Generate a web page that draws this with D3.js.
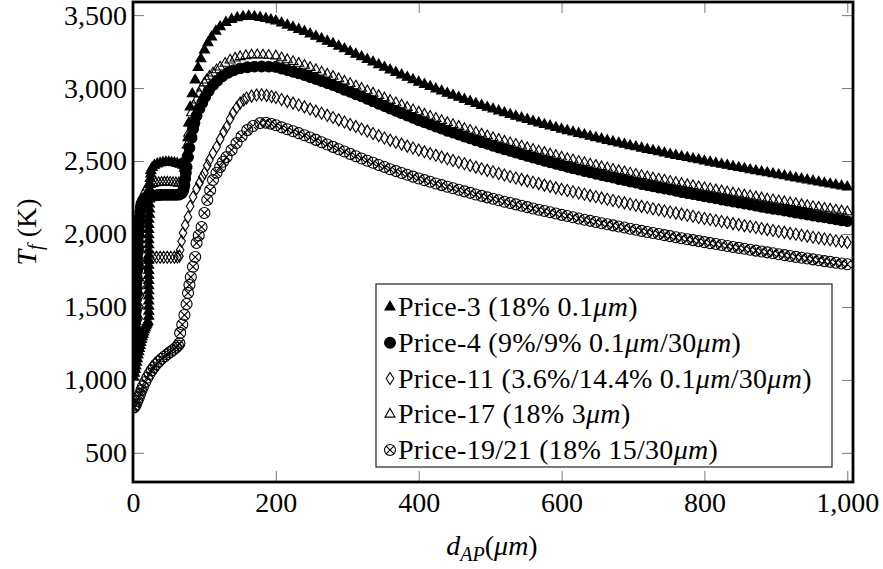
<!DOCTYPE html>
<html>
<head>
<meta charset="utf-8">
<script src="https://cdn.jsdelivr.net/npm/d3@7"></script>
<style>
  html, body { margin: 0; padding: 0; background: #fff; }
</style>
</head>
<body>
<svg id="chart" width="883" height="569"></svg>
<script>
// ---- data -------------------------------------------------------------
const xTicks = [0, 200, 400, 600, 800, 1000];
const yTicks = [500, 1000, 1500, 2000, 2500, 3000, 3500];

const seriesNames = [
  "Price-3 (18% 0.1μm)",
  "Price-4 (9%/9% 0.1μm/30μm)",
  "Price-11 (3.6%/14.4% 0.1μm/30μm)",
  "Price-17 (18% 3μm)",
  "Price-19/21 (18% 15/30μm)"
];

// d_AP sampling of the decaying branch (µm)
const tailX = [200,208,216,224,232,240,248,256,264,272,280,288,296,304,312,320,328,336,344,352,
  360,368,376,384,392,400,408,416,424,432,440,448,456,464,472,480,488,496,504,512,520,528,536,544,
  552,560,568,576,584,592,600,608,616,624,632,640,648,656,664,672,680,688,696,704,712,720,728,736,
  744,752,760,768,776,784,792,800,808,816,824,832,840,848,856,864,872,880,888,896,904,912,920,928,
  936,944,952,960,968,976,984,992,1000];

// [d_AP, T_f] below 200 µm
const price3Head = [[1,1020],[2,1045],[3,1070],[4,1095],[5,1120],[6,1145],[7,1170],[8,1192],[9,1214],
  [10,1236],[11,1256],[12,1276],[13,1295],[14,1312],[15,1328],[16,1343],[17,1357],[18,1370],[19,1381],
  [20,1391],[21,1400],[22,1435],[22,1470],[22,1505],[22,1540],[22,1575],[22,1610],[22,1645],[22,1680],
  [22,1715],[22,1750],[22,1785],[22,1820],[22,1855],[22,1890],[22,1925],[22,1960],[22,1995],[22,2030],
  [22,2065],[22,2100],[23,2135],[23,2170],[23,2205],[23,2240],[23,2275],[23,2310],[23,2345],[24,2380],
  [25,2410],[25,2435],[27,2455],[30,2470],[34,2480],[38,2486],[42,2490],[46,2492],[50,2492],[54,2490],
  [58,2487],[62,2483],[66,2477],[70,2470],[73,2463],[75,2470],[76,2560],[77,2660],[78,2760],[80,2870],
  [83,2960],[87,3055],[91,3140],[95,3200],[100,3260],[105,3310],[110,3350],[116,3390],[122,3420],
  [130,3450],[138,3470],[146,3482],[154,3490],[162,3493],[170,3490],[178,3484],[186,3476],[193,3468]];
const price3Tail = [3460,3446,3431,3417,3402,3388,3371,3355,3338,3321,3305,3287,3269,3250,3232,3214,
  3196,3178,3160,3142,3124,3107,3090,3074,3057,3040,3025,3010,2994,2979,2964,2950,2936,2922,2908,2894,
  2881,2868,2856,2843,2830,2818,2807,2795,2784,2772,2761,2750,2740,2729,2718,2708,2698,2689,2679,2669,
  2660,2651,2641,2632,2623,2614,2605,2597,2588,2579,2571,2563,2554,2546,2538,2530,2523,2515,2508,2500,
  2492,2485,2477,2470,2462,2455,2448,2440,2433,2426,2419,2412,2405,2398,2391,2384,2377,2370,2363,2356,
  2349,2342,2336,2329,2322];

const price4Head = [[2,1150],[2,1190],[2,1230],[3,1270],[3,1310],[3,1350],[3,1390],[4,1430],[4,1470],
  [4,1510],[4,1550],[5,1590],[5,1630],[5,1670],[5,1710],[6,1750],[6,1790],[6,1830],[6,1870],[7,1910],
  [7,1950],[7,1990],[8,2030],[8,2070],[9,2110],[10,2150],[11,2185],[12,2210],[14,2230],[16,2242],
  [18,2248],[21,2252],[25,2258],[29,2262],[33,2265],[37,2267],[41,2268],[45,2268],[49,2268],[53,2268],
  [57,2268],[61,2268],[65,2270],[68,2278],[70,2295],[71,2315],[72,2335],[73,2380],[74,2420],[75,2460],
  [77,2527],[79,2590],[82,2660],[84,2720],[86,2760],[89,2810],[93,2860],[97,2900],[101,2940],[106,2980],
  [112,3020],[118,3050],[125,3080],[133,3105],[141,3122],[150,3135],[160,3143],[170,3147],[180,3148],
  [190,3147]];
const price4Tail = [3145,3134,3123,3112,3101,3090,3076,3062,3048,3034,3020,3005,2989,2974,2958,2943,
  2926,2910,2893,2877,2860,2844,2828,2812,2796,2780,2766,2751,2737,2722,2708,2695,2682,2668,2655,2642,
  2630,2618,2605,2593,2581,2570,2558,2547,2535,2524,2513,2502,2492,2481,2470,2460,2451,2441,2432,2422,
  2413,2404,2395,2386,2377,2369,2360,2352,2343,2335,2327,2319,2312,2304,2296,2288,2281,2273,2266,2258,
  2251,2244,2236,2229,2222,2215,2208,2201,2194,2187,2180,2173,2167,2160,2153,2146,2140,2133,2127,2120,
  2114,2107,2101,2094,2088];

const price11Head = [[4,1060],[5,1150],[6,1240],[7,1330],[8,1420],[9,1500],[10,1580],[12,1660],[14,1730],
  [17,1790],[20,1820],[24,1835],[28,1840],[33,1840],[38,1840],[43,1840],[48,1840],[53,1840],[58,1840],
  [62,1842],[65,1848],[66,1890],[68,1950],[70,2007],[73,2060],[77,2116],[80,2190],[84,2253],[89,2310],
  [93,2350],[97,2390],[100,2418],[104,2470],[107,2507],[112,2555],[117,2596],[122,2650],[127,2700],
  [131,2733],[136,2790],[140,2829],[145,2865],[150,2897],[155,2918],[159,2932],[166,2945],[173,2952],
  [180,2954],[187,2950],[194,2942]];
const price11Tail = [2935,2922,2909,2897,2884,2871,2856,2842,2827,2813,2798,2782,2767,2751,2736,2720,
  2705,2689,2674,2658,2643,2629,2616,2602,2589,2575,2563,2551,2539,2527,2515,2504,2492,2481,2469,2458,
  2447,2436,2426,2415,2404,2394,2384,2374,2364,2354,2345,2335,2326,2316,2307,2298,2289,2281,2272,2263,
  2255,2246,2238,2229,2221,2213,2205,2197,2189,2181,2173,2166,2158,2151,2143,2136,2128,2121,2113,2106,
  2099,2092,2085,2078,2071,2064,2057,2051,2044,2037,2030,2024,2017,2011,2004,1998,1991,1985,1978,1972,
  1966,1960,1954,1948,1942];

const price17Head = [[1,1100],[2,1200],[3,1300],[4,1400],[5,1500],[6,1600],[7,1700],[8,1800],[9,1900],
  [10,2000],[11,2090],[12,2170],[14,2240],[17,2290],[20,2320],[24,2338],[28,2345],[32,2350],[36,2352],
  [40,2354],[44,2355],[48,2355],[52,2354],[56,2352],[60,2350],[64,2348],[68,2350],[70,2380],[72,2450],
  [74,2530],[76,2610],[78,2690],[80,2760],[82,2830],[85,2880],[89,2918],[93,2960],[96,3000],[100,3035],
  [103,3055],[107,3080],[112,3103],[117,3125],[122,3144],[129,3170],[136,3192],[143,3205],[150,3215],
  [158,3222],[166,3227],[174,3228],[182,3226],[190,3224]];
const price17Tail = [3220,3207,3194,3182,3169,3156,3141,3126,3110,3095,3080,3064,3047,3031,3014,2998,
  2981,2965,2948,2932,2915,2899,2883,2867,2851,2835,2821,2806,2792,2777,2763,2750,2737,2723,2710,2697,
  2685,2673,2660,2648,2636,2625,2614,2602,2591,2580,2569,2559,2548,2538,2527,2517,2508,2498,2489,2479,
  2470,2461,2452,2443,2434,2426,2417,2409,2400,2392,2384,2376,2369,2361,2353,2346,2338,2331,2323,2316,
  2309,2302,2295,2288,2281,2274,2267,2261,2254,2247,2240,2234,2227,2221,2214,2208,2201,2195,2188,2182,
  2176,2170,2164,2158,2152];

const price19Head = [[1,810],[2,815],[4,830],[6,855],[8,880],[10,905],[12,930],[14,955],[17,985],[20,1015],
  [23,1040],[26,1065],[29,1085],[32,1105],[36,1125],[40,1145],[44,1160],[48,1175],[52,1190],[56,1205],
  [60,1220],[63,1235],[65,1250],[66,1322],[69,1380],[72,1445],[75,1520],[77,1596],[79,1650],[81,1705],
  [84,1775],[87,1842],[89,1938],[92,1990],[96,2048],[100,2144],[104,2233],[108,2300],[112,2370],
  [117,2420],[122,2459],[126,2495],[131,2527],[138,2575],[145,2623],[152,2670],[160,2712],[168,2740],
  [178,2760],[186,2762],[193,2755]];
const price19Tail = [2745,2731,2718,2704,2691,2677,2661,2645,2629,2613,2597,2581,2565,2549,2533,2517,
  2502,2488,2473,2459,2444,2431,2418,2406,2393,2380,2369,2358,2346,2335,2324,2313,2303,2292,2282,2271,
  2261,2251,2241,2231,2221,2212,2203,2193,2184,2175,2166,2157,2149,2140,2131,2123,2115,2106,2098,2090,
  2082,2074,2067,2059,2051,2044,2036,2029,2021,2014,2007,2000,1992,1985,1978,1971,1964,1958,1951,1944,
  1937,1931,1924,1918,1911,1905,1899,1892,1886,1880,1874,1868,1861,1855,1849,1843,1837,1832,1826,1820,
  1814,1809,1803,1798,1792];

// ---- marker shapes ----------------------------------------------------
const markers = {
  triangleFilled: { d: "M0,-5.8L5.02,2.9L-5.02,2.9Z", fill: "#000" },
  circleFilled:   { d: "M5.4,0A5.4,5.4 0 1,1 -5.4,0A5.4,5.4 0 1,1 5.4,0Z", fill: "#000" },
  diamondOpen:    { d: "M0,-6L3.8,0L0,6L-3.8,0Z", fill: "none" },
  triangleOpen:   { d: "M0,-5.8L5.02,2.9L-5.02,2.9Z", fill: "none" },
  otimesOpen:     { d: "M5.5,0A5.5,5.5 0 1,1 -5.5,0A5.5,5.5 0 1,1 5.5,0ZM-3.9,-3.9L3.9,3.9M-3.9,3.9L3.9,-3.9", fill: "none" }
};

const series = [
  { name: seriesNames[0], head: price3Head,  tail: price3Tail,  marker: markers.triangleFilled },
  { name: seriesNames[1], head: price4Head,  tail: price4Tail,  marker: markers.circleFilled },
  { name: seriesNames[2], head: price11Head, tail: price11Tail, marker: markers.diamondOpen },
  { name: seriesNames[3], head: price17Head, tail: price17Tail, marker: markers.triangleOpen },
  { name: seriesNames[4], head: price19Head, tail: price19Tail, marker: markers.otimesOpen }
].map(s => ({ ...s, points: s.head.concat(tailX.map((xv, i) => [xv, s.tail[i]])) }));

// ---- layout -----------------------------------------------------------
const FONT = "'Liberation Serif', 'DejaVu Serif', 'Times New Roman', serif";
const FS = 28;
const plot = { left: 133, right: 853, top: 2, bottom: 482 };
const svg = d3.select("#chart").attr("font-family", FONT);

const x = d3.scaleLinear().domain([0, 1008]).range([plot.left, plot.right]);
const y = d3.scaleLinear().domain([300, 3590]).range([plot.bottom, plot.top]);
const fmt = d3.format(",");

svg.append("defs").append("clipPath").attr("id", "plotClip")
  .append("rect")
  .attr("x", plot.left).attr("y", plot.top)
  .attr("width", plot.right - plot.left).attr("height", plot.bottom - plot.top);

// ---- axes (ticks point inward, on all four sides) ---------------------
function styleAxis(g, showLabels) {
  g.attr("font-family", FONT).attr("font-size", FS);
  g.select(".domain").remove();
  g.selectAll(".tick line").attr("stroke", "#777").attr("stroke-width", 1);
  g.selectAll(".tick text")
    .attr("fill", "#000")
    .style("font-family", FONT)
    .style("font-size", FS + "px")
    .style("display", showLabels ? null : "none");
}

svg.append("g").attr("transform", `translate(0,${plot.bottom})`)
  .call(d3.axisBottom(x).tickValues(xTicks).tickFormat(fmt).tickSize(-11).tickPadding(10))
  .call(g => styleAxis(g, true));
svg.append("g").attr("transform", `translate(0,${plot.top})`)
  .call(d3.axisTop(x).tickValues(xTicks).tickSize(-11))
  .call(g => styleAxis(g, false));
svg.append("g").attr("transform", `translate(${plot.left},0)`)
  .call(d3.axisLeft(y).tickValues(yTicks).tickFormat(fmt).tickSize(-11).tickPadding(6))
  .call(g => styleAxis(g, true));
svg.append("g").attr("transform", `translate(${plot.right},0)`)
  .call(d3.axisRight(y).tickValues(yTicks).tickSize(-11))
  .call(g => styleAxis(g, false));

// ---- marks ------------------------------------------------------------
const marks = svg.append("g").attr("clip-path", "url(#plotClip)");
series.forEach(s => {
  marks.append("g").selectAll("path")
    .data(s.points)
    .join("path")
    .attr("transform", d => `translate(${x(d[0])},${y(d[1])})`)
    .attr("d", s.marker.d)
    .attr("fill", s.marker.fill)
    .attr("stroke", "#000")
    .attr("stroke-width", 1.1);
});

// axis frame
svg.append("rect")
  .attr("x", plot.left).attr("y", plot.top)
  .attr("width", plot.right - plot.left).attr("height", plot.bottom - plot.top)
  .attr("fill", "none").attr("stroke", "#000").attr("stroke-width", 2.8);

// ---- axis titles ------------------------------------------------------
function serifText(sel) {
  return sel.style("font-family", FONT).style("font-size", FS + "px").attr("fill", "#000");
}

const xt = serifText(svg.append("text").attr("x", 492).attr("y", 555).attr("text-anchor", "middle"));
xt.append("tspan").attr("font-style", "italic").text("d");
xt.append("tspan").attr("font-style", "italic").style("font-size", "20px").attr("dy", 6).text("AP");
xt.append("tspan").attr("dy", -6).text("(");
xt.append("tspan").attr("font-style", "italic").text("μm");
xt.append("tspan").text(")");

const yt = serifText(svg.append("text")
  .attr("transform", "translate(36,232) rotate(-90)")
  .attr("text-anchor", "middle"));
yt.append("tspan").attr("font-style", "italic").text("T");
yt.append("tspan").attr("font-style", "italic").style("font-size", "20px").attr("dy", 6).text("f");
yt.append("tspan").attr("dy", -6).text(" (K)");

// ---- legend -----------------------------------------------------------
const legend = { x: 376, y: 284, w: 456, h: 183, row0: 307, pitch: 35.75 };
svg.append("rect")
  .attr("x", legend.x).attr("y", legend.y)
  .attr("width", legend.w).attr("height", legend.h)
  .attr("fill", "#fff").attr("stroke", "#333").attr("stroke-width", 1.3);

series.forEach((s, i) => {
  const cy = legend.row0 + i * legend.pitch;
  svg.append("path")
    .attr("transform", `translate(${legend.x + 14},${cy})`)
    .attr("d", s.marker.d)
    .attr("fill", s.marker.fill)
    .attr("stroke", "#000").attr("stroke-width", 1.1);
  const t = serifText(svg.append("text").attr("x", legend.x + 22).attr("y", cy + 9))
    .style("letter-spacing", "0.3px");
  s.name.split(/(μm)/).filter(p => p.length).forEach(part => {
    t.append("tspan")
      .attr("font-style", part === "μm" ? "italic" : null)
      .text(part);
  });
});
</script>
</body>
</html>
